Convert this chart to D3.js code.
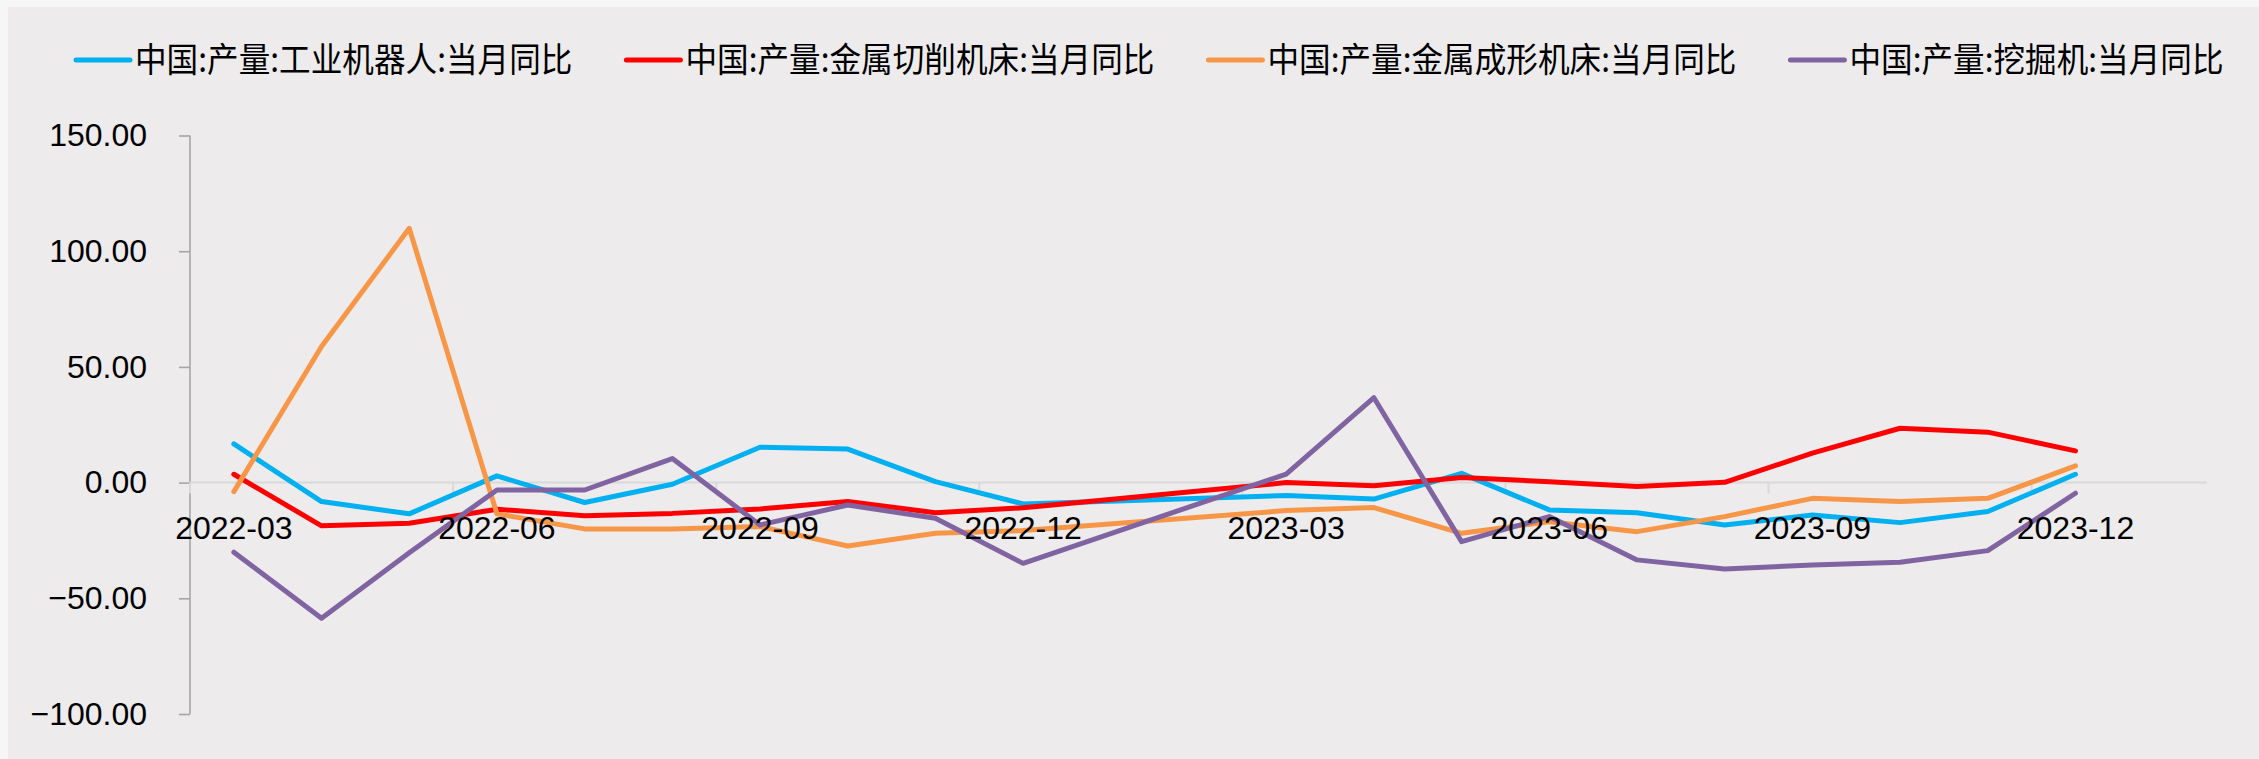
<!DOCTYPE html>
<html>
<head>
<meta charset="utf-8">
<script src="https://cdn.jsdelivr.net/npm/d3@7"></script>
<style>
  html, body { margin: 0; padding: 0; background: #f6f6f6; }
  svg { display: block; }
</style>
</head>
<body>
<svg id="chart" width="2259" height="759"></svg>
<script>
// Monthly categories (2023-01 / 2023-02 have no readings; 2024-01 is an empty slot at the end)
const months = [
  "2022-03","2022-04","2022-05","2022-06","2022-07","2022-08","2022-09","2022-10",
  "2022-11","2022-12","2023-01","2023-02","2023-03","2023-04","2023-05","2023-06",
  "2023-07","2023-08","2023-09","2023-10","2023-11","2023-12","2024-01"
];

// Year-on-year change of monthly output, %
const industrialRobots = [16.7, -8.2, -13.5, 2.9, -8.6, -0.7, 15.3, 14.5, 0.4, -9.2, null, null,
  -5.6, -7.1, 4.0, -11.8, -13.0, -18.3, -14.0, -17.3, -12.5, 3.6, null];
const metalCutting = [3.6, -18.7, -17.6, -11.5, -14.3, -13.3, -11.4, -8.2, -13.0, -10.9, null, null,
  0.0, -1.4, 2.2, 0.4, -1.7, 0.1, 12.7, 23.5, 21.8, 13.7, null];
const metalForming = [-3.9, 58.8, 109.9, -13.5, -20.0, -20.0, -19.0, -27.4, -21.9, -20.7, null, null,
  -12.1, -10.8, -21.9, -16.9, -21.2, -14.7, -6.8, -8.2, -6.8, 7.2, null];
const excavators = [-30.1, -58.6, -30.3, -3.2, -3.2, 10.4, -18.3, -9.7, -15.4, -34.9, null, null,
  3.7, 36.7, -25.5, -14.7, -33.4, -37.3, -35.6, -34.4, -29.4, -4.6, null];

const seriesNames = [
  "中国:产量:工业机器人:当月同比",
  "中国:产量:金属切削机床:当月同比",
  "中国:产量:金属成形机床:当月同比",
  "中国:产量:挖掘机:当月同比"
];
const seriesColors = ["#00b0f0", "#ff0000", "#f79646", "#8064a2"];
const seriesValues = [industrialRobots, metalCutting, metalForming, excavators];

const yTicks = [150, 100, 50, 0, -50, -100];
const labelEvery = 3;

// ---- layout ----
const W = 2259, H = 759;
const plot = { left: 190, right: 2207, top: 135.5, bottom: 714 };
const numFont = "'Liberation Sans', Arial, sans-serif";
const cjkFont = "'Noto Sans CJK SC', sans-serif";

const svg = d3.select("#chart");

// chart area background
svg.append("rect")
  .attr("x", 8).attr("y", 7).attr("width", W - 8).attr("height", H - 7)
  .attr("fill", "#edebec");

const x = d3.scaleBand().domain(months).range([plot.left, plot.right]);
const cx = m => x(m) + x.bandwidth() / 2;
const y = d3.scaleLinear().domain([-100, 150]).range([plot.bottom, plot.top]);

// value axis
const yAxis = svg.append("g")
  .attr("transform", `translate(${plot.left},0)`)
  .call(d3.axisLeft(y).tickValues(yTicks).tickSize(11).tickPadding(32)
    .tickFormat(d3.format(".2f")));
yAxis.select(".domain").attr("stroke", "#a6a6a6").attr("stroke-width", 1.6)
  .attr("d", `M0,${y(150)}V${y(-100)}`);
yAxis.selectAll(".tick line").attr("stroke", "#a6a6a6").attr("stroke-width", 1.6);
yAxis.selectAll(".tick text")
  .attr("font-family", numFont).attr("font-size", 32).attr("fill", "#000");

// category axis along the zero line
const zeroY = y(0);
const xAxis = svg.append("g").attr("transform", `translate(0,${zeroY})`);
xAxis.append("line")
  .attr("x1", plot.left).attr("x2", plot.right)
  .attr("stroke", "#d9d9d9").attr("stroke-width", 2);
const tickCats = months.filter((m, i) => i % labelEvery === 0 && i < months.length - 1);
xAxis.selectAll("line.xtick").data(tickCats).join("line")
  .attr("class", "xtick")
  .attr("x1", d => x(d)).attr("x2", d => x(d))
  .attr("y1", 0).attr("y2", 11)
  .attr("stroke", "#d9d9d9").attr("stroke-width", 2);

// series lines (gaps are bridged)
const line = d3.line()
  .x(d => cx(d.m))
  .y(d => y(d.v))
  .curve(d3.curveLinear);

seriesValues.forEach((vals, si) => {
  const pts = months.map((m, i) => ({ m, v: vals[i] })).filter(d => d.v !== null);
  svg.append("path")
    .datum(pts)
    .attr("d", line)
    .attr("fill", "none")
    .attr("stroke", seriesColors[si])
    .attr("stroke-width", 5)
    .attr("stroke-linejoin", "round")
    .attr("stroke-linecap", "round");
});

// category labels
svg.append("g").selectAll("text").data(tickCats).join("text")
  .attr("x", d => cx(d))
  .attr("y", 539)
  .attr("text-anchor", "middle")
  .attr("font-family", numFont)
  .attr("font-size", 32)
  .attr("fill", "#000")
  .text(d => d);

// legend
const legend = svg.append("g");
const legY = 60;
let lx = 76;
seriesNames.forEach((name, i) => {
  legend.append("line")
    .attr("x1", lx).attr("x2", lx + 54)
    .attr("y1", legY).attr("y2", legY)
    .attr("stroke", seriesColors[i]).attr("stroke-width", 5)
    .attr("stroke-linecap", "round");
  const g = legend.append("g")
    .attr("transform", `translate(${lx + 59},${legY}) scale(0.93,1)`);
  const t = g.append("text")
    .attr("x", 0).attr("y", 0).attr("dy", "0.36em")
    .attr("font-family", cjkFont)
    .attr("font-size", 34)
    .attr("fill", "#000")
    .text(name);
  const w = t.node().getComputedTextLength() * 0.93;
  lx += 59 + w + 54;
});
</script>
</body>
</html>
